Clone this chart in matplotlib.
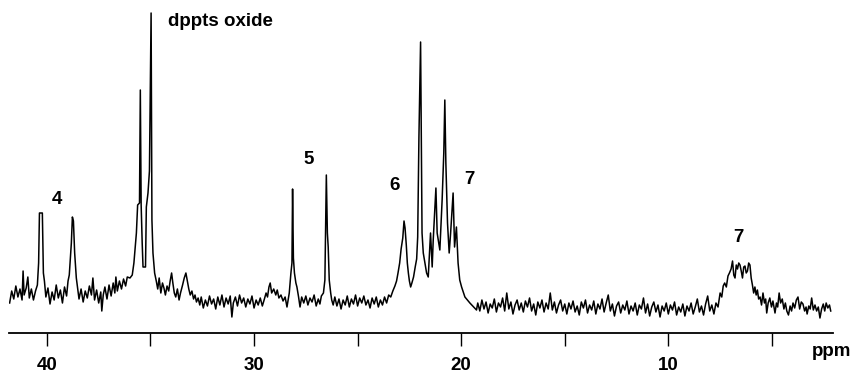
import numpy as np
import matplotlib.pyplot as plt

plt.rcParams['font.family'] = ['Liberation Sans', 'DejaVu Sans']

# 31P spectrum: chemical shift (ppm) and intensity (arb. units)
ppm_left = [41.8, 41.7, 41.6, 41.5, 41.4, 41.3, 41.2, 41.15, 41.1, 41.0, 40.92, 40.85, 40.75, 40.65, 40.55,
            40.46, 40.40, 40.36, 40.22, 40.17, 40.12,
            40.05, 39.95, 39.85, 39.75, 39.65, 39.55, 39.45, 39.35, 39.25, 39.15, 39.05, 38.98,
            38.92, 38.82, 38.77, 38.72, 38.66, 38.58, 38.52,
            38.45, 38.35, 38.25, 38.15, 38.05, 37.95, 37.85, 37.78, 37.7, 37.6, 37.5, 37.4, 37.35, 37.28,
            37.2, 37.1, 37.0, 36.9, 36.8, 36.72, 36.67, 36.6, 36.5, 36.4, 36.3, 36.2, 36.12]
int_left = [30, 42, 34, 47, 36, 44, 33, 62, 38, 45, 56, 35, 44, 33, 42,
            48, 70, 120, 120, 60, 52,
            36, 45, 29, 41, 33, 48, 35, 43, 30, 46, 37, 52,
            58, 90, 116, 112, 80, 55, 45,
            34, 44, 31, 42, 35, 47, 38, 55, 33, 43, 30, 41, 22, 38,
            46, 34, 48, 37, 50, 40, 56, 42, 52, 44, 54, 47, 56]

# dppts oxide doublet and the baseline after it
ppm_oxide = [35.99, 35.88, 35.80, 35.74, 35.68, 35.62, 35.53, 35.49, 35.45, 35.40, 35.36, 35.24, 35.20,
             35.12, 35.05, 34.97, 34.93, 34.88, 34.80, 34.72,
             34.65, 34.58, 34.50, 34.42, 34.35, 34.28, 34.2, 34.12, 34.05, 33.98, 33.92, 33.85, 33.78,
             33.7, 33.62, 33.55, 33.45, 33.37, 33.29, 33.22, 33.15, 33.08, 33.0, 32.92, 32.85, 32.78,
             32.7, 32.62]
int_oxide = [55, 58, 70, 85, 100, 128, 130, 243, 128, 90, 66, 66, 126,
             140, 162, 320, 113, 80, 60, 52,
             44, 55, 40, 50, 45, 38, 47, 42, 52, 60, 50, 40, 36,
             44, 33, 40, 48, 55, 60, 52, 44, 38, 42, 34, 38, 31,
             35, 28]

# baseline and the two sharp lines of 5
ppm_mid = [32.55, 32.45, 32.35, 32.25, 32.15, 32.05, 31.95, 31.85, 31.75, 31.65, 31.55, 31.45, 31.35,
           31.25, 31.15, 31.07, 31.0, 30.9, 30.8, 30.7, 30.6, 30.5, 30.4, 30.3, 30.2, 30.1, 30.0,
           29.9, 29.8, 29.7, 29.6,
           29.5, 29.42, 29.35, 29.28, 29.22, 29.15, 29.05, 28.95, 28.88, 28.8, 28.7, 28.6, 28.5, 28.41,
           28.3, 28.22, 28.17, 28.14, 28.10, 28.05, 27.98, 27.93, 27.85, 27.78,
           27.7, 27.6, 27.5, 27.4, 27.3, 27.2, 27.1, 27.0, 26.9, 26.82, 26.75,
           26.65, 26.58, 26.51, 26.46, 26.42, 26.37, 26.3, 26.25, 26.18,
           26.1, 26.0, 25.9, 25.8, 25.7, 25.6, 25.5, 25.4, 25.3, 25.2, 25.1, 25.0, 24.9, 24.8, 24.7,
           24.6, 24.5, 24.4, 24.3, 24.2, 24.1, 24.0, 23.9, 23.8, 23.7, 23.6, 23.5]
int_mid = [36, 25, 33, 27, 37, 29, 34, 24, 36, 28, 38, 26, 35,
           29, 37, 16, 30, 36, 27, 38, 30, 35, 26, 34, 29, 37, 25,
           33, 28, 35, 27,
           34, 40, 36, 46, 50, 40, 44, 38, 43, 35, 38, 32, 36, 26,
           40, 60, 70, 144, 75, 60, 50, 46, 36, 26,
           36, 30, 37, 28, 35, 31, 38, 27, 34, 29, 37,
           40, 53, 158, 100, 86, 53, 40, 33, 28,
           36, 27, 34, 24, 33, 28, 37, 26, 34, 29, 38, 27, 35, 30, 37,
           28, 33, 25, 35, 29, 36, 26, 33, 28, 36, 30, 38]

# 6 and the 7 multiplet
ppm_cluster = [23.4, 23.3, 23.2, 23.12, 23.05, 22.97, 22.9, 22.82, 22.76, 22.71, 22.65, 22.6, 22.55,
               22.5, 22.44, 22.38, 22.3, 22.22, 22.15, 22.1,
               22.04, 21.96, 21.93, 21.89, 21.83, 21.67, 21.59, 21.48, 21.40, 21.35, 21.22, 21.16,
               21.03, 20.92, 20.84, 20.79, 20.74, 20.66, 20.58, 20.51, 20.39, 20.32, 20.23, 20.15,
               20.07, 19.98, 19.82, 19.58, 19.26]
int_cluster = [36, 42, 47, 52, 60, 70, 84, 95, 112, 105, 88, 70, 60,
               52, 46, 50, 56, 66, 74, 96,
               196, 291, 210, 100, 80, 60, 56, 100, 66, 93, 145, 100,
               83, 133, 180, 233, 170, 110, 80, 100, 140, 86, 106, 70,
               53, 46, 36, 30, 23]

ppm_flat = [19.2, 19.1, 19.0, 18.9, 18.8, 18.7, 18.6, 18.5, 18.4, 18.3, 18.2, 18.1, 18.0, 17.9, 17.8,
            17.7, 17.6, 17.5, 17.4, 17.3, 17.2, 17.1, 17.0, 16.9, 16.8, 16.7, 16.6, 16.5, 16.4, 16.3,
            16.2, 16.1, 16.0, 15.9, 15.8, 15.7, 15.6, 15.5, 15.4, 15.3, 15.2, 15.1, 15.0, 14.9, 14.8,
            14.7, 14.6, 14.5, 14.4, 14.3, 14.2, 14.1, 14.0, 13.9, 13.8, 13.7, 13.6, 13.5, 13.4, 13.3,
            13.2, 13.1, 13.0, 12.9, 12.8, 12.7, 12.6, 12.5, 12.4, 12.3, 12.2, 12.1, 12.0, 11.9, 11.8,
            11.7, 11.6, 11.5, 11.4, 11.3, 11.2, 11.1, 11.0, 10.9, 10.8, 10.7, 10.6, 10.5, 10.4, 10.3,
            10.2, 10.1, 10.0, 9.9, 9.8, 9.7, 9.6, 9.5, 9.4, 9.3, 9.2, 9.1, 9.0, 8.9, 8.8,
            8.7, 8.6, 8.5, 8.4, 8.3, 8.2, 8.1, 8.0, 7.9, 7.8, 7.7, 7.6]
int_flat = [30, 22, 33, 24, 31, 20, 29, 25, 34, 21, 30, 26, 35, 22, 40,
            24, 31, 19, 28, 33, 23, 30, 21, 32, 26, 35, 22, 29, 18, 31,
            25, 33, 21, 30, 24, 40, 23, 31, 20, 28, 33, 22, 29, 19, 30,
            24, 32, 21, 27, 18, 31, 25, 33, 20, 28, 23, 32, 19, 29, 24,
            34, 21, 30, 38, 22, 29, 17, 27, 31, 20, 28, 23, 32, 19, 27,
            22, 30, 18, 28, 24, 35, 20, 29, 17, 26, 31, 21, 28, 16, 27,
            22, 30, 19, 28, 23, 31, 18, 26, 21, 29, 17, 27, 22, 30, 19,
            26, 34, 21, 27, 18, 29, 37, 22, 28, 19, 30, 26]

# broad 7 and the right-hand end
ppm_right = [7.55, 7.5, 7.42, 7.35, 7.28, 7.2, 7.12, 7.05, 6.97, 6.9, 6.84, 6.78, 6.72, 6.66, 6.6,
             6.54, 6.48, 6.42, 6.36, 6.3, 6.24, 6.18, 6.12, 6.06, 6.0, 5.94, 5.88, 5.82, 5.76, 5.7,
             5.64, 5.57, 5.5, 5.43, 5.36, 5.3, 5.25, 5.18, 5.1, 5.02, 4.95, 4.85, 4.78, 4.72, 4.65,
             4.58, 4.5, 4.42, 4.35, 4.28, 4.2, 4.12, 4.05, 3.98, 3.9, 3.82, 3.74, 3.66, 3.58, 3.5,
             3.42, 3.35, 3.3, 3.22, 3.15, 3.08, 3.0, 2.92, 2.84, 2.76, 2.68, 2.6, 2.52, 2.45, 2.38,
             2.3, 2.22, 2.16]
int_right = [33, 40, 36, 47, 50, 46, 57, 60, 64, 72, 58, 55, 68, 64, 70,
             68, 62, 55, 66, 67, 60, 62, 70, 68, 55, 48, 40, 46, 38, 43,
             34, 36, 28, 40, 30, 34, 20, 30, 35, 26, 32, 20, 30, 26, 40,
             30, 34, 24, 30, 22, 18, 27, 22, 30, 25, 33, 36, 24, 31, 29,
             22, 26, 19, 27, 24, 35, 23, 28, 22, 26, 15, 24, 29, 22, 30,
             25, 28, 22]

labels = ['4', 'dppts oxide', '5', '6', '7', '7']
label_ppm = [39.52, 34.16, 27.35, 23.20, 19.61, 6.62]
label_int = [133, 311, 173, 148, 153, 96]

ppm = np.array(ppm_left + ppm_oxide + ppm_mid + ppm_cluster + ppm_flat + ppm_right)
intensity = np.array(int_left + int_oxide + int_mid + int_cluster + int_flat + int_right)

fig = plt.figure(figsize=(8.55, 3.74), dpi=100)
ax = fig.add_axes([9 / 855, 41 / 374, 824 / 855, 333 / 374])

ax.plot(ppm, intensity, color='black', lw=1.1)

for text, x, y in zip(labels, label_ppm, label_int):
    ha = 'left' if text == 'dppts oxide' else 'center'
    ax.text(x, y, text, ha=ha, va='center', fontsize=13.5, fontweight='bold')

ax.set_xlim(41.83, 2.05)
ax.set_ylim(0, 333)
ax.set_xticks([40, 30, 20, 10])
ax.set_xticks([35, 25, 15, 5], minor=True)
ax.tick_params(axis='x', which='both', direction='out', length=9, width=1,
               pad=8.5, labelsize=13.5)
for lab in ax.get_xticklabels():
    lab.set_fontweight('bold')
ax.set_yticks([])
for side in ['left', 'top', 'right']:
    ax.spines[side].set_visible(False)
ax.spines['bottom'].set_linewidth(1.3)

fig.text(832 / 855, 1 - 352 / 374, 'ppm', ha='center', va='center',
         fontsize=13.5, fontweight='bold')

fig.savefig('out.png', dpi=100)
